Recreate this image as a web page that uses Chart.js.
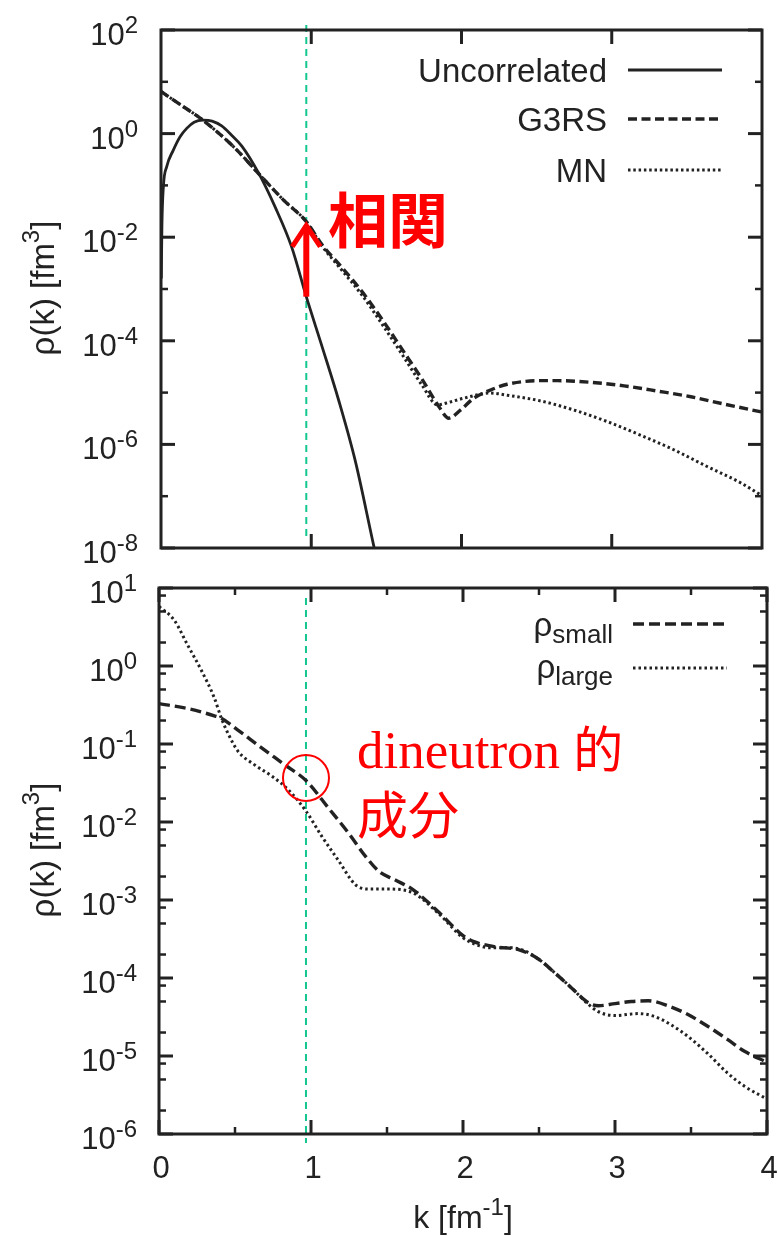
<!DOCTYPE html>
<html>
<head>
<meta charset="utf-8">
<script src="https://cdn.jsdelivr.net/npm/chart.js@4/dist/chart.umd.min.js"></script>
<style>
  html, body { margin: 0; padding: 0; background: #fff; }
  #wrap { position: relative; width: 778px; height: 1236px; }
  canvas { position: absolute; left: 0; }
  #topPanel { top: 0; }
  #bottomPanel { top: 570px; }
</style>
</head>
<body>
<div id="wrap">
  <canvas id="topPanel" width="778" height="570"></canvas>
  <canvas id="bottomPanel" width="778" height="666"></canvas>
</div>
<script>
// ---- momentum distributions rho(k) [fm^3] versus k [fm^-1] ----

// upper panel
const kUncorrelated = [0.002, 0.006, 0.016, 0.038, 0.082, 0.127, 0.171, 0.22, 0.28, 0.34, 0.404, 0.47, 0.538, 0.649, 0.76, 0.871, 0.967, 1.071, 1.182, 1.293, 1.416, 1.45];
const rhoUncorrelated = [1.6e-3, 1.6e-2, 9.5e-2, 0.23, 0.48, 0.87, 1.26, 1.66, 1.82, 1.74, 1.41, 0.93, 0.575, 0.174, 0.038, 6.3e-3, 7.1e-4, 7.9e-5, 7.2e-6, 4.8e-7, 1.1e-8, 4e-9];

const kG3RS = [0, 0.149, 0.26, 0.482, 0.649, 0.816, 0.967, 1.071, 1.204, 1.338, 1.471, 1.604, 1.738, 1.849, 1.916, 1.993, 2.082, 2.193, 2.304, 2.527, 2.638, 2.86, 3.082, 3.304, 3.527, 3.749, 4.0];
const rhoG3RS = [6.5, 3.3, 2.0, 0.56, 0.17, 0.052, 0.020, 7.2e-3, 2.6e-3, 8.9e-4, 2.6e-4, 6.9e-5, 1.8e-5, 5.4e-6, 3.2e-6, 4.6e-6, 7.8e-6, 1.12e-5, 1.45e-5, 1.7e-5, 1.7e-5, 1.58e-5, 1.35e-5, 1.07e-5, 8.3e-6, 6.0e-6, 4.2e-6];

const kMN = [0, 0.149, 0.26, 0.482, 0.649, 0.816, 0.967, 1.071, 1.204, 1.338, 1.471, 1.604, 1.738, 1.84, 1.9, 2.016, 2.193, 2.304, 2.527, 2.749, 2.971, 3.193, 3.416, 3.638, 3.86, 4.0];
const rhoMN = [6.5, 3.3, 2.0, 0.56, 0.17, 0.052, 0.020, 6.8e-3, 2.3e-3, 7.6e-4, 2.1e-4, 5.5e-5, 1.38e-5, 5.8e-6, 6.3e-6, 7.8e-6, 9.8e-6, 8.9e-6, 6.9e-6, 4.6e-6, 2.75e-6, 1.5e-6, 7.8e-7, 3.7e-7, 1.8e-7, 1.02e-7];

// lower panel
const kSmall = [0, 0.188, 0.364, 0.41, 0.519, 0.673, 0.828, 0.967, 1.115, 1.247, 1.36, 1.45, 1.55, 1.673, 1.843, 2.0, 2.067, 2.22, 2.37, 2.498, 2.607, 2.716, 2.825, 2.89, 3.0, 3.109, 3.218, 3.349, 3.48, 3.611, 3.742, 3.852, 4.0];
const rhoSmall = [0.33, 0.285, 0.23, 0.214, 0.151, 0.090, 0.054, 0.034, 0.0151, 7.2e-3, 3.6e-3, 2.3e-3, 1.82e-3, 1.35e-3, 6.9e-4, 3.5e-4, 2.95e-4, 2.5e-4, 2.3e-4, 1.74e-4, 1.15e-4, 7.4e-5, 4.8e-5, 4.4e-5, 4.7e-5, 5.0e-5, 5.1e-5, 4.4e-5, 3.4e-5, 2.4e-5, 1.62e-5, 1.15e-5, 8.3e-6];

const kLarge = [0, 0.099, 0.188, 0.276, 0.364, 0.41, 0.453, 0.519, 0.629, 0.74, 0.85, 0.967, 1.07, 1.181, 1.291, 1.38, 1.512, 1.673, 1.843, 1.998, 2.083, 2.17, 2.3, 2.389, 2.498, 2.607, 2.716, 2.825, 2.89, 3.0, 3.153, 3.262, 3.371, 3.48, 3.611, 3.742, 3.852, 4.0];
const rhoLarge = [5.8, 3.9, 1.86, 0.90, 0.39, 0.215, 0.138, 0.081, 0.054, 0.039, 0.026, 0.0138, 6.6e-3, 3.2e-3, 1.58e-3, 1.38e-3, 1.38e-3, 1.23e-3, 6.6e-4, 3.3e-4, 2.7e-4, 2.45e-4, 2.45e-4, 2.3e-4, 1.74e-4, 1.15e-4, 7.4e-5, 4.6e-5, 3.7e-5, 3.3e-5, 3.5e-5, 3.2e-5, 2.5e-5, 1.78e-5, 1.07e-5, 6.0e-6, 4.1e-6, 2.8e-6];

// axes
const xTickLabels = ['0', '1', '2', '3', '4'];
const topYExponents = ['2', '0', '-2', '-4', '-6', '-8'];
const topYMinorExponents = [1, -1, -3, -5, -7];
const bottomYExponents = ['1', '0', '-1', '-2', '-3', '-4', '-5', '-6'];
const minorMantissas = [2, 5, 8];
const topLegend = ['Uncorrelated', 'G3RS', 'MN'];
const bottomLegend = [['ρ', 'small'], ['ρ', 'large']];

// markers: k where the two panels are compared
const markK = 0.967;
const arrowFrom = 7.1e-4;   // uncorrelated value at markK
const arrowTo = 2.0e-2;     // correlated value at markK
const circleRho = 0.0366;

const INK = '#222';
const RED = '#ff0000';
const GREEN = '#14c68f';
const SANS = '"Liberation Sans", Arial, Helvetica, sans-serif';
const CJK = '"Noto Sans CJK JP", "Noto Sans CJK SC", sans-serif';
const SERIF = '"Liberation Serif", "Times New Roman", serif';

const pts = (ks, vs) => ks.map((k, i) => ({ x: k, y: vs[i] }));

// text made of runs with different sizes / vertical shifts
function runs(ctx, items, x, y, align) {
  let w = 0;
  for (const it of items) {
    ctx.font = (it.weight || '') + ' ' + it.size + 'px ' + (it.family || SANS);
    it.w = ctx.measureText(it.t).width;
    w += it.w;
  }
  let cx = align === 'right' ? x - w : align === 'center' ? x - w / 2 : x;
  ctx.textAlign = 'left';
  ctx.textBaseline = 'alphabetic';
  for (const it of items) {
    ctx.font = (it.weight || '') + ' ' + it.size + 'px ' + (it.family || SANS);
    ctx.fillText(it.t, cx, y + (it.dy || 0));
    cx += it.w;
  }
}

function seg(ctx, x1, y1, x2, y2) {
  ctx.beginPath(); ctx.moveTo(x1, y1); ctx.lineTo(x2, y2); ctx.stroke();
}

// frame, inward ticks, tick labels, titles, legend and marker line
const panelDecor = {
  id: 'panelDecor',
  beforeDatasetsDraw(chart, args, o) {
    const { ctx, scales: { x } } = chart;
    const px = x.getPixelForValue(markK);
    ctx.save();
    ctx.strokeStyle = GREEN;
    ctx.lineWidth = 2;
    ctx.setLineDash([7, 5]);
    seg(ctx, px, o.markTop, px, o.markBottom);
    ctx.restore();
  },
  afterDatasetsDraw(chart, args, o) {
    const { ctx, chartArea: a, scales: { x, y } } = chart;
    ctx.save();
    ctx.setLineDash([]);
    ctx.strokeStyle = INK;
    ctx.fillStyle = INK;
    ctx.lineCap = 'butt';

    // ticks
    const xt = (v, len, lw) => {
      const px = x.getPixelForValue(v);
      ctx.lineWidth = lw;
      seg(ctx, px, a.bottom, px, a.bottom - len);
      seg(ctx, px, a.top, px, a.top + len);
    };
    const yt = (v, len, lw) => {
      const py = y.getPixelForValue(v);
      ctx.lineWidth = lw;
      seg(ctx, a.left, py, a.left + len, py);
      seg(ctx, a.right, py, a.right - len, py);
    };
    o.xMajor.forEach(v => xt(v, 14, 3));
    (o.xMinor || []).forEach(v => xt(v, 7, 2.5));
    o.yMajor.forEach(e => yt(Math.pow(10, +e), 14, 3));
    (o.yMinor || []).forEach(v => yt(v, 7, 2.5));

    // frame
    ctx.lineWidth = 3;
    ctx.lineJoin = 'miter';
    ctx.strokeRect(a.left, a.top, a.right - a.left, a.bottom - a.top);

    // y tick labels 10^n
    o.yMajor.forEach(e => {
      const py = y.getPixelForValue(Math.pow(10, +e));
      runs(ctx, [{ t: '10', size: 31 }, { t: e, size: 24, dy: -12 }], o.yLabelRight, py + 15, 'right');
    });

    // x tick labels
    if (o.xLabels) {
      o.xLabels.forEach(t => {
        const px = x.getPixelForValue(+t);
        runs(ctx, [{ t: t, size: 31 }], px + 2, o.xLabelBaseline, 'center');
      });
      runs(ctx, [{ t: 'k [fm', size: 32 }, { t: '-1', size: 24, dy: -13 }, { t: ']', size: 32 }],
        o.xTitleX, o.xTitleBaseline, 'center');
    }

    // y title
    ctx.save();
    ctx.translate(o.yTitleBaseline, o.yTitleCenter);
    ctx.rotate(-Math.PI / 2);
    runs(ctx, [{ t: 'ρ(k) [fm', size: 33 }, { t: '3', size: 24, dy: -15 }, { t: ']', size: 33 }], 0, 0, 'center');
    ctx.restore();

    // legend
    o.legend.forEach((item, i) => {
      const ds = chart.data.datasets[i];
      const ly = o.legendY[i];
      ctx.save();
      ctx.strokeStyle = ds.borderColor;
      ctx.lineWidth = ds.borderWidth;
      ctx.setLineDash(ds.borderDash || []);
      seg(ctx, o.legendLine[0], ly, o.legendLine[1], ly);
      ctx.restore();
      if (Array.isArray(item)) {
        runs(ctx, [{ t: item[0], size: 33 }, { t: item[1], size: 26, dy: 7 }], o.legendTextRight, ly + o.legendDy[i], 'right');
      } else {
        runs(ctx, [{ t: item, size: 33 }], o.legendTextRight, ly + 12, 'right');
      }
    });
    ctx.restore();
  },
  afterDraw(chart, args, o) {
    if (o.annotate) o.annotate(chart);
  }
};

function lineSet(label, data, dash, width) {
  return {
    label, data,
    borderColor: INK,
    borderWidth: width,
    borderDash: dash,
    borderCapStyle: 'butt',
    pointRadius: 0,
    fill: false,
    cubicInterpolationMode: 'monotone'
  };
}

function baseOptions(padding, yMin, yMax, decor) {
  return {
    responsive: false,
    animation: false,
    devicePixelRatio: 1,
    events: [],
    layout: { padding },
    scales: {
      x: { type: 'linear', min: 0, max: 4, display: false },
      y: { type: 'logarithmic', min: yMin, max: yMax, display: false }
    },
    plugins: { legend: { display: false }, tooltip: { enabled: false }, panelDecor: decor }
  };
}

// ---------------- upper panel ----------------
new Chart(document.getElementById('topPanel'), {
  type: 'line',
  data: {
    datasets: [
      lineSet(topLegend[0], pts(kUncorrelated, rhoUncorrelated), [], 2.8),
      lineSet(topLegend[1], pts(kG3RS, rhoG3RS), [9, 4.5], 3.4),
      lineSet(topLegend[2], pts(kMN, rhoMN), [2.5, 2.8], 3)
    ]
  },
  options: baseOptions({ left: 161, top: 30, right: 16, bottom: 22 }, 1e-8, 1e2, {
    markTop: 25, markBottom: 538,
    xMajor: [1, 2, 3],
    yMajor: topYExponents,
    yMinor: topYMinorExponents.map(e => Math.pow(10, e)),
    yLabelRight: 138,
    yTitleBaseline: 54, yTitleCenter: 288,
    legend: topLegend,
    legendY: [70, 119, 170],
    legendLine: [628, 722],
    legendTextRight: 607,
    annotate(chart) {
      const { ctx, scales: { x, y } } = chart;
      const px = x.getPixelForValue(markK);
      const y0 = y.getPixelForValue(arrowFrom);
      const y1 = y.getPixelForValue(arrowTo);
      ctx.save();
      ctx.strokeStyle = RED;
      ctx.lineWidth = 6;
      ctx.lineCap = 'butt';
      ctx.lineJoin = 'miter';
      seg(ctx, px, y0, px, y1 + 4);
      ctx.lineWidth = 5;
      ctx.beginPath();
      ctx.moveTo(px - 14, y1 + 25);
      ctx.lineTo(px, y1 + 4);
      ctx.lineTo(px + 14, y1 + 25);
      ctx.stroke();
      ctx.fillStyle = RED;
      ctx.font = 'bold 60px ' + CJK;
      ctx.textAlign = 'left';
      ctx.textBaseline = 'alphabetic';
      ctx.fillText('相関', 328, 243);
      ctx.restore();
    }
  }),
  plugins: [panelDecor]
});

// ---------------- lower panel ----------------
const bottomMinor = [];
bottomYExponents.forEach(e => {
  minorMantissas.forEach(m => {
    const v = m * Math.pow(10, +e);
    if (v < 10) bottomMinor.push(v);
  });
});

new Chart(document.getElementById('bottomPanel'), {
  type: 'line',
  data: {
    datasets: [
      lineSet(bottomLegend[0].join(''), pts(kSmall, rhoSmall), [11, 5], 3.4),
      lineSet(bottomLegend[1].join(''), pts(kLarge, rhoLarge), [2.5, 3], 3)
    ]
  },
  options: baseOptions({ left: 159, top: 18, right: 11, bottom: 102 }, 1e-6, 1e1, {
    markTop: 28, markBottom: 573,
    xMajor: [0, 1, 2, 3, 4],
    xMinor: [0.5, 1.5, 2.5, 3.5],
    yMajor: bottomYExponents,
    yMinor: bottomMinor,
    yLabelRight: 137,
    xLabels: xTickLabels,
    xLabelBaseline: 608,
    xTitleX: 463, xTitleBaseline: 658,
    yTitleBaseline: 54, yTitleCenter: 280,
    legend: bottomLegend,
    legendY: [54, 98],
    legendDy: [12, 10],
    legendLine: [633, 727],
    legendTextRight: 613,
    annotate(chart) {
      const { ctx, scales: { x, y } } = chart;
      const px = x.getPixelForValue(markK);
      const py = y.getPixelForValue(circleRho);
      ctx.save();
      ctx.strokeStyle = RED;
      ctx.lineWidth = 2;
      ctx.beginPath();
      ctx.arc(px, py, 23, 0, Math.PI * 2);
      ctx.stroke();
      ctx.fillStyle = RED;
      ctx.textAlign = 'left';
      ctx.textBaseline = 'alphabetic';
      ctx.font = '53px ' + SERIF;
      const word = 'dineutron ';
      ctx.fillText(word, 357, 198);
      const w = ctx.measureText(word).width;
      ctx.font = '50px ' + CJK;
      ctx.fillText('的', 357 + w, 198);
      ctx.font = '51px ' + CJK;
      ctx.fillText('成分', 357, 264);
      ctx.restore();
    }
  }),
  plugins: [panelDecor]
});
</script>
</body>
</html>
